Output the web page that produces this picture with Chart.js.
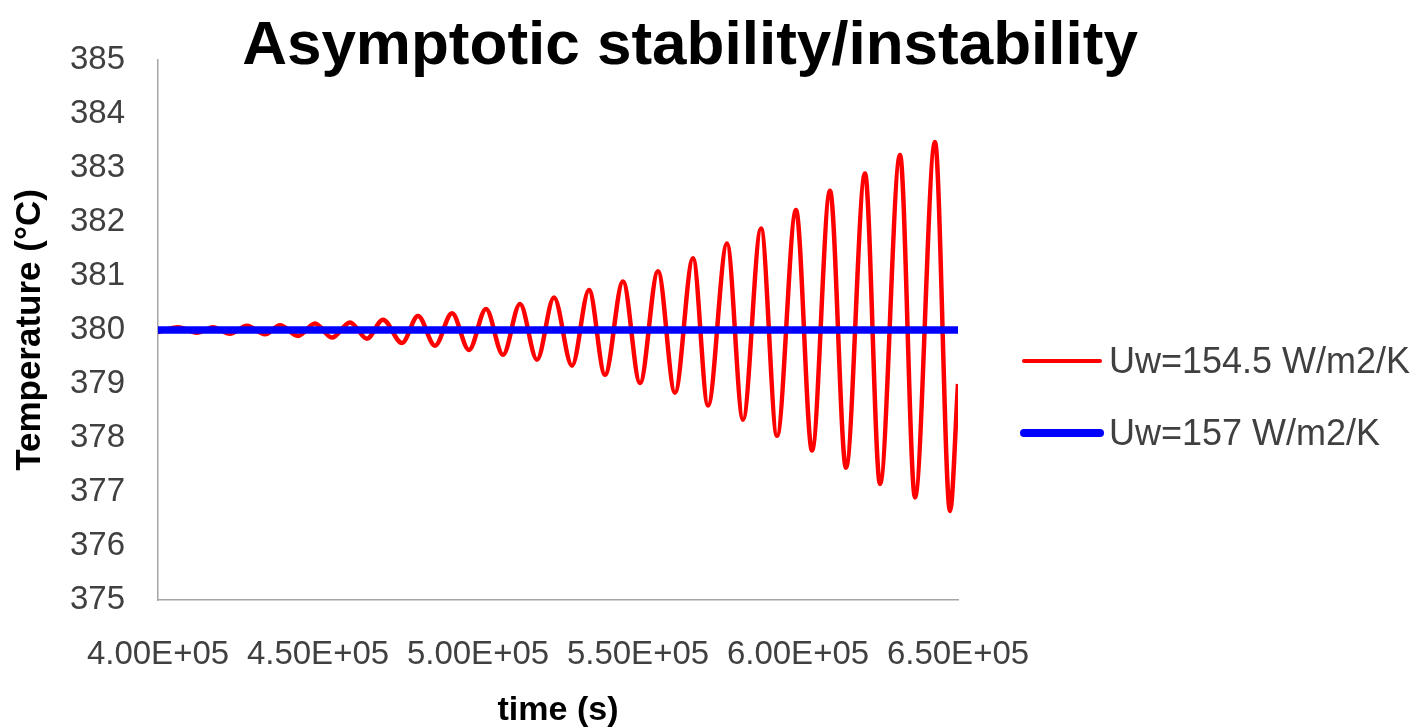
<!DOCTYPE html>
<html>
<head>
<meta charset="utf-8">
<title>Asymptotic stability/instability</title>
<script src="https://cdn.jsdelivr.net/npm/chart.js@4/dist/chart.umd.min.js"></script>
<style>
  html, body { margin: 0; padding: 0; background: #ffffff; }
  #wrap { position: relative; width: 1427px; height: 728px; }
</style>
</head>
<body>
<div id="wrap"><canvas id="chart"></canvas></div>
<script>
// Wall temperature response for two wall heat-transfer coefficients
const chartTitle = 'Asymptotic stability/instability';
const xAxisTitle = 'time (s)';
const yAxisTitle = 'Temperature (°C)';
const seriesLabels = ['Uw=154.5 W/m2/K', 'Uw=157 W/m2/K'];

// Uw = 154.5: growing oscillation, sampled at its turning points
const timeLow = [
  400000, 406250, 412190, 417190, 422500, 427810, 433440, 438130, 443750, 449060,
  454380, 460000, 465310, 470310, 476250, 481250, 486560, 491880, 497190, 502500,
  507810, 513130, 518440, 523750, 529380, 534690, 539690, 545310, 550630, 556250,
  561560, 567190, 571880, 577810, 582810, 588440, 593440, 599380, 604380, 610000,
  615000, 620940, 625630, 631880, 636560, 642810, 647500, 650000
];
const tempLow = [
  379.96, 380.05, 379.95, 380.05, 379.93, 380.08, 379.92, 380.09, 379.89, 380.12,
  379.86, 380.14, 379.84, 380.19, 379.76, 380.26, 379.71, 380.31, 379.63, 380.39,
  379.54, 380.48, 379.45, 380.60, 379.34, 380.74, 379.17, 380.90, 379.02, 381.09,
  378.84, 381.33, 378.60, 381.60, 378.34, 381.88, 378.04, 382.22, 377.77, 382.58,
  377.45, 382.90, 377.15, 383.24, 376.90, 383.48, 376.65, 379.00
];

// Uw = 157: steady at the set point
const timeHigh = [400000, 650000];
const tempHigh = [380, 380];

const xTickLabels = ['4.00E+05', '4.50E+05', '5.00E+05', '5.50E+05', '6.00E+05', '6.50E+05'];
const yTickValues = [375, 376, 377, 378, 379, 380, 381, 382, 383, 384, 385];

const FONT = '"Liberation Sans", Arial, sans-serif';
const TEXT_GREY = '#404040';

const toPoints = (xs, ys) => xs.map((x, i) => ({ x: x, y: ys[i] }));

// Chart heading and the line legend at the right
const decorations = {
  id: 'decorations',
  afterDraw(chart) {
    const ctx = chart.ctx;
    ctx.save();
    ctx.fillStyle = '#000000';
    ctx.font = 'bold 62px ' + FONT;
    ctx.textAlign = 'center';
    ctx.textBaseline = 'alphabetic';
    ctx.fillText(chartTitle, 690, 64);

    ctx.font = '36px ' + FONT;
    ctx.textAlign = 'left';
    chart.data.datasets.forEach((ds, i) => {
      const y = 361 + i * 72;
      ctx.strokeStyle = ds.borderColor;
      ctx.lineWidth = ds.legendLineWidth;
      ctx.lineCap = 'round';
      ctx.beginPath();
      ctx.moveTo(1024, y);
      ctx.lineTo(1100, y);
      ctx.stroke();
      ctx.fillStyle = TEXT_GREY;
      ctx.fillText(ds.label, 1109, y + 12);
    });
    ctx.restore();
  }
};

new Chart(document.getElementById('chart'), {
  type: 'line',
  data: {
    datasets: [
      {
        label: seriesLabels[0],
        data: toPoints(timeLow, tempLow),
        borderColor: '#ff0000',
        borderWidth: 4.5,
        legendLineWidth: 4,
        pointRadius: 0,
        cubicInterpolationMode: 'monotone',
        order: 1
      },
      {
        label: seriesLabels[1],
        data: toPoints(timeHigh, tempHigh),
        borderColor: '#0000ff',
        borderWidth: 7.5,
        legendLineWidth: 8,
        pointRadius: 0,
        order: 0
      }
    ]
  },
  options: {
    responsive: true,
    maintainAspectRatio: false,
    animation: false,
    layout: { padding: { top: 60, right: 469, left: 0, bottom: 0 } },
    plugins: {
      legend: { display: false },
      title: { display: false },
      tooltip: { enabled: false }
    },
    scales: {
      x: {
        type: 'linear',
        min: 400000,
        max: 650000,
        afterFit(scale) { scale.height = 128; },
        afterBuildTicks(scale) {
          scale.ticks = xTickLabels.map((_, i) => ({ value: 400000 + i * 50000 }));
        },
        grid: { display: false, drawTicks: false },
        border: { display: true, color: '#a6a6a6', width: 1.5 },
        ticks: {
          autoSkip: false,
          maxRotation: 0,
          padding: 35,
          color: TEXT_GREY,
          font: { family: FONT, size: 33 },
          callback: (value, index) => xTickLabels[index]
        },
        title: {
          display: true,
          text: xAxisTitle,
          color: '#000000',
          font: { family: FONT, size: 34, weight: 'bold', lineHeight: 1 },
          padding: { top: 0, bottom: 0 }
        }
      },
      y: {
        min: 375,
        max: 385,
        afterFit(scale) { scale.width = 158; },
        afterBuildTicks(scale) {
          scale.ticks = yTickValues.map(v => ({ value: v }));
        },
        grid: { display: false, drawTicks: false },
        border: { display: true, color: '#a6a6a6', width: 1.5 },
        ticks: {
          padding: 33,
          color: TEXT_GREY,
          font: { family: FONT, size: 33 }
        },
        title: {
          display: true,
          text: yAxisTitle,
          color: '#000000',
          font: { family: FONT, size: 35, weight: 'bold', lineHeight: 1.2 },
          padding: { top: 9, bottom: 0 }
        }
      }
    }
  },
  plugins: [decorations]
});
</script>
</body>
</html>
